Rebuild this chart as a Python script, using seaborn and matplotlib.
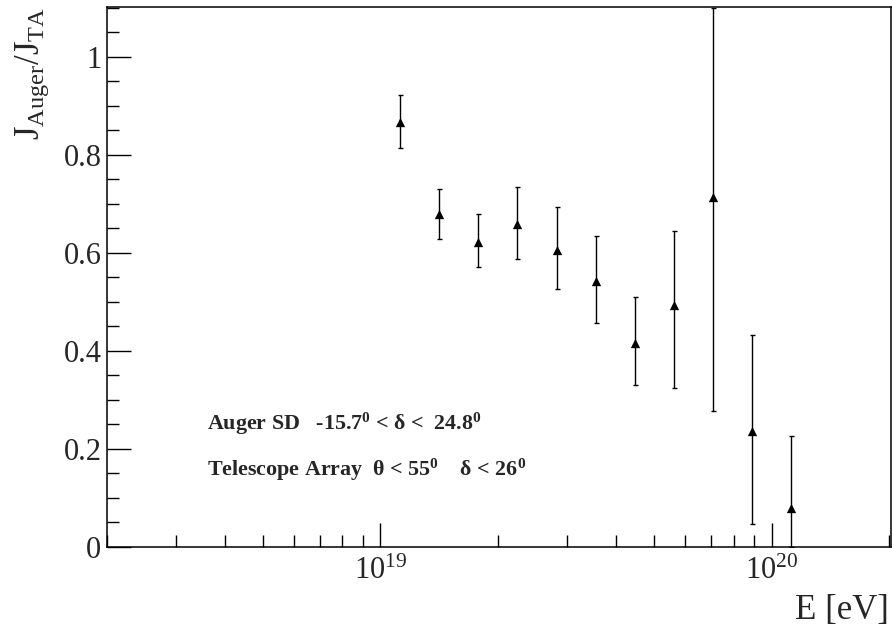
import numpy as np
import pandas as pd
import matplotlib
matplotlib.use("Agg")
import matplotlib.pyplot as plt
import matplotlib.ticker as mticker
import seaborn as sns

# ---- data ----
energy = [1.12e19, 1.41e19, 1.78e19, 2.24e19, 2.82e19, 3.55e19,
          4.47e19, 5.62e19, 7.08e19, 8.91e19, 1.12e20]
ratio = [0.867, 0.679, 0.623, 0.659, 0.607, 0.543,
         0.417, 0.493, 0.715, 0.237, 0.079]
upper = [0.922, 0.731, 0.680, 0.735, 0.693, 0.634,
         0.510, 0.645, 1.099, 0.432, 0.227]
lower = [0.814, 0.629, 0.571, 0.587, 0.527, 0.458,
         0.331, 0.325, 0.277, 0.046, 0.0]

df = pd.DataFrame({"E": energy, "ratio": ratio, "up": upper, "lo": lower})

sns.set_theme(style="ticks")
plt.rcParams["font.family"] = ["Liberation Serif", "DejaVu Serif"]
plt.rcParams["mathtext.fontset"] = "custom"
plt.rcParams["mathtext.rm"] = "Liberation Serif"
plt.rcParams["mathtext.it"] = "Liberation Serif:italic"
plt.rcParams["mathtext.bf"] = "Liberation Serif:bold"
plt.rcParams["mathtext.default"] = "regular"

fig = plt.figure(figsize=(8.92, 6.35), dpi=100)
ax = fig.add_axes([107 / 892, 1 - 547 / 635, 784 / 892, 540 / 635])

yerr = np.vstack([df["ratio"] - df["lo"], df["up"] - df["ratio"]])
ax.errorbar(df["E"], df["ratio"], yerr=yerr, fmt="none", ecolor="black",
            elinewidth=1.0, capsize=1.8, capthick=1.0, zorder=2)
sns.scatterplot(data=df, x="E", y="ratio", marker="^", s=45, color="black",
                linewidth=0, ax=ax, zorder=3)

ax.set_xscale("log")
ax.set_xlim(2e18, 2.02e20)
ax.set_ylim(0, 1.102)

ax.xaxis.set_major_locator(mticker.LogLocator(base=10, numticks=10))
ax.xaxis.set_minor_locator(mticker.LogLocator(base=10, subs=np.arange(2, 10), numticks=20))
ax.xaxis.set_minor_formatter(mticker.NullFormatter())
ax.yaxis.set_major_locator(mticker.MultipleLocator(0.2))
ax.yaxis.set_minor_locator(mticker.MultipleLocator(0.05))
ax.yaxis.set_major_formatter(mticker.FuncFormatter(lambda v, p: "%g" % round(v, 3)))

ax.tick_params(axis="both", which="both", direction="in", top=False, right=False,
               color="black", width=1.0)
ax.tick_params(axis="both", which="major", length=17, labelsize=22)
ax.tick_params(axis="both", which="minor", length=8.5)
ax.tick_params(axis="x", which="major", pad=7)
ax.tick_params(axis="y", which="major", pad=4)

for sp in ax.spines.values():
    sp.set_visible(True)
    sp.set_linewidth(1.1)
    sp.set_color("black")

ax.set_xlabel("E [eV]", fontsize=25, ha="right", va="center")
ax.xaxis.set_label_coords((889 - 107) / 784, -(610 - 547) / 540)
ax.set_ylabel(r"J$_{\rm Auger}$/J$_{\rm TA}$", fontsize=25, ha="right", va="center")
ax.yaxis.set_label_coords((32 - 107) / 784, 1.0)

ax.text((207 - 107) / 784, (547 - 424) / 540,
        r"Auger SD   -15.7$^{0}$ < δ <  24.8$^{0}$",
        transform=ax.transAxes, fontsize=15.8, fontweight="bold", va="center", ha="left")
ax.text((207 - 107) / 784, (547 - 470) / 540,
        r"Telescope Array  θ < 55$^{0}$    δ < 26$^{0}$",
        transform=ax.transAxes, fontsize=15.8, fontweight="bold", va="center", ha="left")

fig.savefig("out.png", dpi=100)
